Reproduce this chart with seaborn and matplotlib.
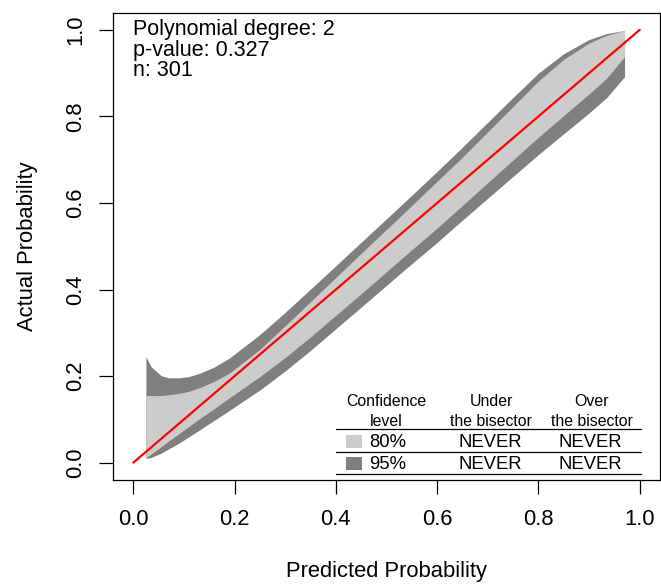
import numpy as np
import pandas as pd
import matplotlib
matplotlib.use("Agg")
import matplotlib.pyplot as plt
import seaborn as sns
from matplotlib.patches import Rectangle

# ---- data ----
pred = [0.025, 0.035, 0.055, 0.07, 0.09, 0.11, 0.13, 0.16, 0.19, 0.25, 0.30, 0.35, 0.40, 0.47,
        0.54, 0.60, 0.65, 0.70, 0.75, 0.80, 0.85, 0.90, 0.935, 0.97]
upper95 = [0.245, 0.222, 0.201, 0.196, 0.196, 0.199, 0.206, 0.221, 0.242, 0.296, 0.3475, 0.401,
           0.455, 0.531, 0.607, 0.673, 0.729, 0.7865, 0.844, 0.900, 0.945, 0.9775, 0.9915, 0.9985]
upper80 = [0.155, 0.155, 0.155, 0.157, 0.160, 0.165, 0.173, 0.188, 0.207, 0.262, 0.3165, 0.372,
           0.428, 0.506, 0.583, 0.650, 0.706, 0.7645, 0.823, 0.882, 0.932, 0.9695, 0.9875, 0.9985]
lower80 = [0.012, 0.020, 0.037, 0.050, 0.067, 0.084, 0.101, 0.125, 0.150, 0.199, 0.243, 0.2905,
           0.3405, 0.4105, 0.482, 0.542, 0.5945, 0.647, 0.6995, 0.752, 0.802, 0.852, 0.8888, 0.9378]
lower95 = [0.010, 0.012, 0.022, 0.032, 0.045, 0.060, 0.075, 0.098, 0.121, 0.168, 0.212, 0.2595,
           0.3095, 0.3795, 0.450, 0.509, 0.5605, 0.611, 0.6615, 0.712, 0.760, 0.808, 0.8438, 0.8918]

bisector_x = [0.0, 1.0]
bisector_y = [0.0, 1.0]

ticks = [0.0, 0.2, 0.4, 0.6, 0.8, 1.0]
tick_labels = ["0.0", "0.2", "0.4", "0.6", "0.8", "1.0"]

info_lines = ["Polynomial degree: 2", "p-value: 0.327", "n: 301"]
table_header1 = ["Confidence", "Under", "Over"]
table_header2 = ["level", "the bisector", "the bisector"]
conf_levels = ["80%", "95%"]
under_vals = ["NEVER", "NEVER"]
over_vals = ["NEVER", "NEVER"]

light = "#cccccc"
dark = "#7f7f7f"

# ---- figure ----
sns.set_theme(style="ticks")
plt.rcParams["font.family"] = ["Liberation Sans", "DejaVu Sans"]

W, H = 661, 585
fig = plt.figure(figsize=(W / 100, H / 100), dpi=100)
fig.patch.set_facecolor("white")
ax = fig.add_axes([113 / W, (H - 480) / H, (660 - 113) / W, (480 - 12.5) / H])
ax.set_facecolor("white")

band = pd.DataFrame({"pred": pred, "lo95": lower95, "up95": upper95,
                     "lo80": lower80, "up80": upper80})
ax.fill_between(band["pred"], band["lo95"], band["up95"], color=dark, lw=0)
ax.fill_between(band["pred"], band["lo80"], band["up80"], color=light, lw=0)

line_df = pd.DataFrame({"x": bisector_x, "y": bisector_y})
sns.lineplot(data=line_df, x="x", y="y", color="#ff0000", lw=1.6, ax=ax)

ax.set_xlim(-0.04, 1.04)
ax.set_ylim(-0.04, 1.04)
ax.set_xticks(ticks)
ax.set_xticklabels(tick_labels)
ax.set_yticks(ticks)
ax.set_yticklabels(tick_labels, rotation=90, va="center")
for s in ax.spines.values():
    s.set_visible(True)
    s.set_color("black")
    s.set_linewidth(0.9)
ax.tick_params(direction="out", length=10, width=0.9, colors="black",
               labelsize=15.8)
ax.tick_params(axis="x", pad=11)
ax.tick_params(axis="y", pad=9)
ax.set_xlabel("Predicted Probability", fontsize=15.8, labelpad=22, color="black")
ax.set_ylabel("Actual Probability", fontsize=15.8, labelpad=20, color="black")

# info text at upper left
for txt, yb in zip(info_lines, [0.9880, 0.9405, 0.8930]):
    ax.text(0.0, yb, txt, fontsize=15.5, ha="left", va="baseline", color="black")

# calibration table
col_x = [0.50, 0.707, 0.905]
for cx, h1, h2 in zip(col_x, table_header1, table_header2):
    ax.text(cx, 0.130, h1, fontsize=11.4, ha="center", va="baseline", color="black")
    ax.text(cx, 0.085, h2, fontsize=11.4, ha="center", va="baseline", color="black")
for yl in [0.0775, 0.0255, -0.0255]:
    ax.plot([0.40, 1.003], [yl, yl], color="black", lw=0.9)
row_base = [0.036, -0.015]
row_box = [0.0347, -0.0162]
for lvl, u, o, yb, yr, col in zip(conf_levels, under_vals, over_vals, row_base, row_box,
                                  [light, dark]):
    ax.add_patch(Rectangle((0.42, yr), 0.032, 0.030, color=col, lw=0))
    ax.text(0.465, yb, lvl, fontsize=13.3, ha="left", va="baseline", color="black")
    ax.text(col_x[1] - 0.002, yb, u, fontsize=13.3, ha="center", va="baseline", color="black")
    ax.text(col_x[2] - 0.003, yb, o, fontsize=13.3, ha="center", va="baseline", color="black")

fig.savefig("out.png", dpi=100, facecolor="white")
